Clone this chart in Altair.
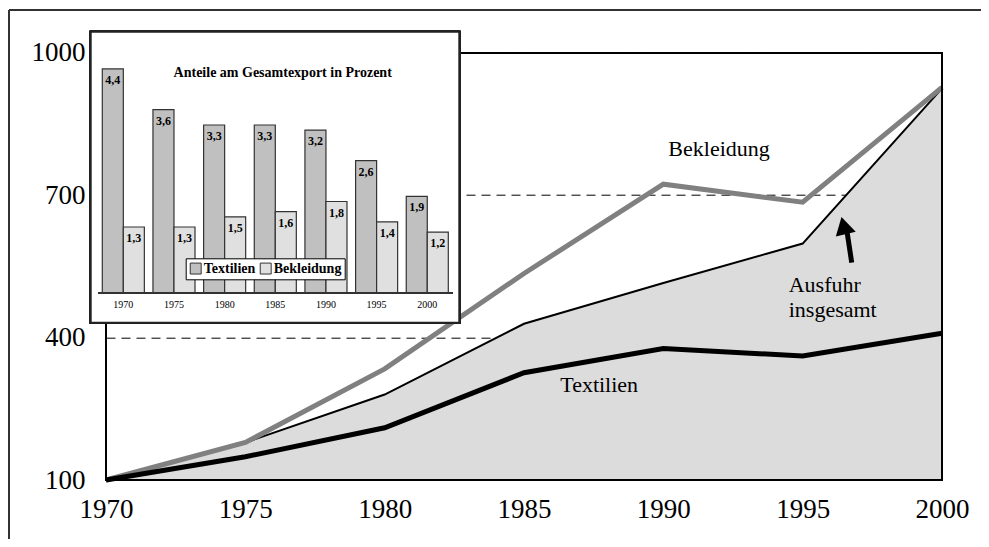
import altair as alt
import pandas as pd

# ---------- data ----------
years = [1970, 1975, 1980, 1985, 1990, 1995, 2000]
ausfuhr = [100, 179, 280, 429, 515, 598, 925]
bekleidung = [100, 179, 334, 535, 723, 685, 927]
textilien = [100, 149, 210, 326, 377, 361, 409]

inset_years = ["1970", "1975", "1980", "1985", "1990", "1995", "2000"]
share_textilien = [4.4, 3.6, 3.3, 3.3, 3.2, 2.6, 1.9]
share_bekleidung = [1.3, 1.3, 1.5, 1.6, 1.8, 1.4, 1.2]
series_names = ["Textilien", "Bekleidung"]

label_text = ["Bekleidung", "Ausfuhr", "insgesamt", "Textilien"]
label_year = [1992.0, 1994.5, 1994.5, 1986.3]
label_val = [782, 497, 444, 286]
label_align = ["center", "left", "left", "left"]

arrow_year = [1996.76]
arrow_val = [558]
arrow_year2 = [1996.60]
arrow_val2 = [620]
head_year = [1996.47]
head_val = [636]

FONT = "Liberation Serif"
W, H = 836, 427.3

# ---------- main chart ----------
XAX = alt.Axis(values=years, format="d", labelFontSize=27, labelFont=FONT,
               labelColor="black", ticks=False, domain=False, grid=False,
               title=None, labelPadding=16, labelFlush=False, labelOverlap=False)
YAX = alt.Axis(values=[100, 400, 700, 1000], format="d", grid=True, gridDash=[9, 6],
               gridColor="black", gridWidth=1, gridOpacity=1, ticks=False,
               domain=False, labelFontSize=27, labelFont=FONT,
               labelColor="black", labelPadding=21, title=None)
XS = alt.Scale(domain=[1970, 2000], nice=False)
YS = alt.Scale(domain=[100, 1000], nice=False, zero=False)


def X(f="year"):
    return alt.X(f + ":Q", scale=XS, axis=XAX)


def Y(f="val"):
    return alt.Y(f + ":Q", scale=YS, axis=YAX)


df_a = pd.DataFrame({"year": years, "val": ausfuhr})
df_b = pd.DataFrame({"year": years, "val": bekleidung})
df_t = pd.DataFrame({"year": years, "val": textilien})

area = alt.Chart(df_a).mark_area(color="#dcdcdc", opacity=1).encode(
    x=X(), y=Y(), y2=alt.datum(100))
line_a = alt.Chart(df_a).mark_line(color="black", strokeWidth=2).encode(x=X(), y=Y())
line_b = alt.Chart(df_b).mark_line(color="#808080", strokeWidth=5).encode(x=X(), y=Y())
line_t = alt.Chart(df_t).mark_line(color="black", strokeWidth=5).encode(x=X(), y=Y())

frame = alt.Chart(df_a).mark_rect(fillOpacity=0, stroke="black", strokeWidth=1.5).encode(
    x=alt.value(0), x2=alt.value(W), y=alt.value(0), y2=alt.value(H))

df_lab = pd.DataFrame({"year": label_year, "val": label_val,
                       "txt": label_text, "al": label_align})
lab_c = alt.Chart(df_lab[df_lab.al == "center"]).mark_text(
    font=FONT, fontSize=22, align="center", baseline="alphabetic", color="black").encode(
    x=X(), y=Y(), text="txt:N")
lab_l = alt.Chart(df_lab[df_lab.al == "left"]).mark_text(
    font=FONT, fontSize=22, align="left", baseline="alphabetic", color="black").encode(
    x=X(), y=Y(), text="txt:N")

df_arrow = pd.DataFrame({"year": arrow_year, "val": arrow_val,
                         "year2": arrow_year2, "val2": arrow_val2})
shaft = alt.Chart(df_arrow).mark_rule(color="black", strokeWidth=5).encode(
    x=X(), y=Y(), x2=alt.X2("year2"), y2=alt.Y2("val2"))
df_head = pd.DataFrame({"year": head_year, "val": head_val})
head = alt.Chart(df_head).mark_point(shape="triangle-up", filled=True, color="black",
                                     opacity=1, size=420, angle=346).encode(x=X(), y=Y())

outer_top = alt.Chart(df_a).mark_rule(color="#333333", strokeWidth=1.5).encode(
    x=alt.value(-97), x2=alt.value(880), y=alt.value(-42.7))
outer_left = alt.Chart(df_a).mark_rule(color="#333333", strokeWidth=1.5).encode(
    x=alt.value(-97), y=alt.value(-42.7), y2=alt.value(H + 60))

main = alt.layer(outer_top, outer_left, area, line_a, line_b, line_t, frame,
                 lab_c, lab_l, shaft, head)

# ---------- inset ----------
rows = []
for i, j in enumerate(inset_years):
    rows.append({"jahr": j, "series": "Textilien", "share": share_textilien[i]})
    rows.append({"jahr": j, "series": "Bekleidung", "share": share_bekleidung[i]})
df_in = pd.DataFrame(rows)
df_in["lbl"] = df_in["share"].map(lambda v: f"{v:.1f}".replace(".", ","))

IXS = alt.Scale(domain=inset_years, range=[-3.7, 342.3], paddingInner=0.17, paddingOuter=0)
IYS = alt.Scale(domain=[0, 4.4], range=[240.6, 16.2], nice=False, zero=True)


def IX():
    return alt.X("jahr:N", scale=IXS, axis=None, sort=inset_years)


def IY():
    return alt.Y("share:Q", scale=IYS, axis=None)


XO = alt.XOffset("series:N", sort=series_names, scale=alt.Scale(paddingInner=0, paddingOuter=0))

box = alt.Chart(df_in).mark_rect(fill="white", stroke="#222222", strokeWidth=2).encode(
    x=alt.value(-15.3), x2=alt.value(353.3), y=alt.value(-21), y2=alt.value(270))
bars = alt.Chart(df_in).mark_bar(stroke="#333333", strokeWidth=1.2, opacity=1).encode(
    x=IX(), xOffset=XO, y=IY(),
    color=alt.Color("series:N", sort=series_names,
                    scale=alt.Scale(domain=series_names, range=["#c0c0c0", "#e0e0e0"]),
                    legend=alt.Legend(title=None, orient="none", legendX=79.7, legendY=205.6,
                                      direction="horizontal", symbolType="square",
                                      symbolSize=120, symbolStrokeColor="#333333",
                                      symbolStrokeWidth=1, labelFont=FONT,
                                      labelFontSize=14, labelFontWeight="bold",
                                      labelColor="black", labelOffset=1,
                                      columnPadding=2, fillColor="white",
                                      strokeColor="black", padding=3)))
vals = alt.Chart(df_in).mark_text(font=FONT, fontSize=12, fontWeight="bold",
                                  baseline="middle", dy=11, color="black").encode(
    x=IX(), xOffset=XO, y=IY(), text="lbl:N")
baseline = alt.Chart(df_in).mark_rule(color="#333333", strokeWidth=1.5).encode(
    x=alt.value(-8), x2=alt.value(346.7), y=alt.value(240.6))
ylabels = alt.Chart(pd.DataFrame({"jahr": inset_years})).mark_text(
    font=FONT, fontSize=10, color="black", baseline="middle").encode(
    x=IX(), y=alt.value(252.3), text="jahr:N")
ititle = alt.Chart(pd.DataFrame({"t": ["Anteile am Gesamtexport in Prozent"]})).mark_text(
    font=FONT, fontSize=14, fontWeight="bold", color="black", baseline="middle").encode(
    x=alt.value(176.7), y=alt.value(20), text="t:N")

inset = alt.layer(box, bars, vals, baseline, ylabels, ititle)

chart = alt.layer(main, inset).resolve_scale(
    x="independent", y="independent"
).properties(
    width=W, height=H,
    autosize=alt.AutoSizeParams(type="none"),
    padding={"left": 98, "top": 44.7, "right": 39, "bottom": 59},
).configure_view(stroke=None).configure(font=FONT).configure_legend(
    labelFont=FONT, labelFontWeight="bold", labelFontSize=14)

chart.save("out.html", embed_options={"renderer": "svg", "actions": False})
